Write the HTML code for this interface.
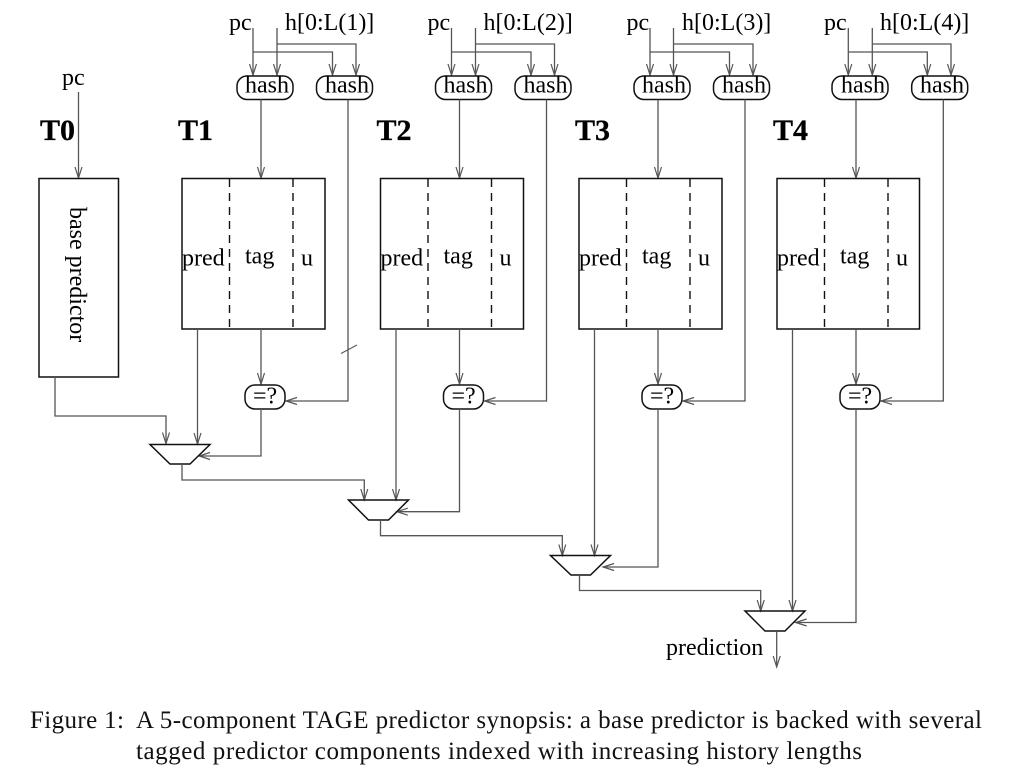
<!DOCTYPE html>
<html>
<head>
<meta charset="utf-8">
<style>
html,body{margin:0;padding:0;background:#fff;width:1014px;height:772px;overflow:hidden}
svg{display:block}
text{font-family:"Liberation Serif",serif;font-size:24px;fill:#000}
.b{font-weight:bold;font-size:30px;fill:#000;stroke:#000;stroke-width:.3}
.c{font-size:25px;fill:#111}
.l{fill:none;stroke:#555;stroke-width:1.3}
.s{fill:none;stroke:#111;stroke-width:1.5}
.d{fill:none;stroke:#111;stroke-width:1.4;stroke-dasharray:8 6}
</style>
</head>
<body>
<svg width="1014" height="772" viewBox="0 0 1014 772" xmlns="http://www.w3.org/2000/svg">
<defs>
<marker id="a" markerUnits="userSpaceOnUse" markerWidth="14" markerHeight="10" refX="12.5" refY="5" orient="auto">
<path d="M1.5 1.5 L12.5 5 L1.5 8.5" fill="none" stroke="#555" stroke-width="1.2"/>
</marker>
</defs>

<!-- T0 -->
<text x="62" y="85">pc</text>
<text class="b" x="40" y="140">T0</text>
<path class="l" d="M78.5 92V178" marker-end="url(#a)"/>
<rect class="s" x="39" y="178.5" width="79.5" height="198.5"/>
<text transform="translate(70,207) rotate(90)">base predictor</text>
<path class="l" d="M55 377V416H166V443.5" marker-end="url(#a)"/>

<!-- T1 -->
<g>
<text x="229" y="30">pc</text>
<text x="285" y="30">h[0:L(1)]</text>
<text class="b" x="178" y="140">T1</text>
<path class="l" d="M253 28V75" marker-end="url(#a)"/>
<path class="l" d="M277 28V75" marker-end="url(#a)"/>
<path class="l" d="M277 44H356V75" marker-end="url(#a)"/>
<path class="l" d="M253 52H332.5V75" marker-end="url(#a)"/>
<rect class="s" x="237" y="76" width="56" height="23.5" rx="10"/>
<rect class="s" x="316.5" y="76" width="56" height="23.5" rx="10"/>
<text x="245" y="92.5">hash</text>
<text x="325" y="92.5">hash</text>
<path class="l" d="M261 99.5V178" marker-end="url(#a)"/>
<path class="l" d="M348 99.5V401H286" marker-end="url(#a)"/>
<rect class="s" x="182" y="178.5" width="143" height="150.5"/>
<path class="d" d="M229.5 179V329"/>
<path class="d" d="M293 179V329"/>
<text x="182" y="265.5">pred</text>
<text x="245" y="263.5">tag</text>
<text x="301" y="265.5">u</text>
<path class="l" d="M261 329V384" marker-end="url(#a)"/>
<rect class="s" x="245" y="385" width="40" height="24" rx="10"/>
<text x="253" y="403.5">=?</text>
<path class="l" d="M197.5 329V444" marker-end="url(#a)"/>
<path class="l" d="M261 409V456H199" marker-end="url(#a)"/>
<path class="s" d="M150 444.5H210L190 464H170Z"/>
<path class="l" d="M182 464V480H364.3V500" marker-end="url(#a)"/>
</g>
<path d="M341 353.5L357 345" fill="none" stroke="#555" stroke-width="1"/>

<!-- T2 -->
<g transform="translate(198.5,0)">
<text x="229" y="30">pc</text>
<text x="285" y="30">h[0:L(2)]</text>
<text class="b" x="178" y="140">T2</text>
<path class="l" d="M253 28V75" marker-end="url(#a)"/>
<path class="l" d="M277 28V75" marker-end="url(#a)"/>
<path class="l" d="M277 44H356V75" marker-end="url(#a)"/>
<path class="l" d="M253 52H332.5V75" marker-end="url(#a)"/>
<rect class="s" x="237" y="76" width="56" height="23.5" rx="10"/>
<rect class="s" x="316.5" y="76" width="56" height="23.5" rx="10"/>
<text x="245" y="92.5">hash</text>
<text x="325" y="92.5">hash</text>
<path class="l" d="M261 99.5V178" marker-end="url(#a)"/>
<path class="l" d="M348 99.5V401H286" marker-end="url(#a)"/>
<rect class="s" x="182" y="178.5" width="143" height="150.5"/>
<path class="d" d="M229.5 179V329"/>
<path class="d" d="M293 179V329"/>
<text x="182" y="265.5">pred</text>
<text x="245" y="263.5">tag</text>
<text x="301" y="265.5">u</text>
<path class="l" d="M261 329V384" marker-end="url(#a)"/>
<rect class="s" x="245" y="385" width="40" height="24" rx="10"/>
<text x="253" y="403.5">=?</text>
<path class="l" d="M197.5 329V500" marker-end="url(#a)"/>
<path class="l" d="M261 409V511.7H198.3" marker-end="url(#a)"/>
<path class="s" d="M150 500H210L190 520H170Z"/>
<path class="l" d="M182 520V535.7H363.8V555.5" marker-end="url(#a)"/>
</g>

<!-- T3 -->
<g transform="translate(397,0)">
<text x="229.5" y="30">pc</text>
<text x="285" y="30">h[0:L(3)]</text>
<text class="b" x="178" y="140">T3</text>
<path class="l" d="M253 28V75" marker-end="url(#a)"/>
<path class="l" d="M276.5 28V75" marker-end="url(#a)"/>
<path class="l" d="M276.5 44H356V75" marker-end="url(#a)"/>
<path class="l" d="M253 52H332.5V75" marker-end="url(#a)"/>
<rect class="s" x="237" y="76" width="56" height="23.5" rx="10"/>
<rect class="s" x="316.5" y="76" width="56" height="23.5" rx="10"/>
<text x="245" y="92.5">hash</text>
<text x="325" y="92.5">hash</text>
<path class="l" d="M261 99.5V178" marker-end="url(#a)"/>
<path class="l" d="M348 99.5V401H286" marker-end="url(#a)"/>
<rect class="s" x="182" y="178.5" width="143" height="150.5"/>
<path class="d" d="M229.5 179V329"/>
<path class="d" d="M293 179V329"/>
<text x="182" y="265.5">pred</text>
<text x="245" y="263.5">tag</text>
<text x="301" y="265.5">u</text>
<path class="l" d="M261 329V384" marker-end="url(#a)"/>
<rect class="s" x="245" y="385" width="40" height="24" rx="10"/>
<text x="253" y="403.5">=?</text>
<path class="l" d="M197.5 329V555.5" marker-end="url(#a)"/>
<path class="l" d="M261 409V567H206" marker-end="url(#a)"/>
<path class="s" d="M153.5 555.5H213.5L193.5 575H174Z"/>
<path class="l" d="M182.5 575V590.5H363.7V611" marker-end="url(#a)"/>
</g>

<!-- T4 -->
<g transform="translate(595,0)">
<text x="229" y="30">pc</text>
<text x="285" y="30">h[0:L(4)]</text>
<text class="b" x="178" y="140">T4</text>
<path class="l" d="M253.3 28V75" marker-end="url(#a)"/>
<path class="l" d="M277.3 28V75" marker-end="url(#a)"/>
<path class="l" d="M277.3 44H356V75" marker-end="url(#a)"/>
<path class="l" d="M253.3 52H332.3V75" marker-end="url(#a)"/>
<rect class="s" x="237" y="76" width="56" height="23.5" rx="10"/>
<rect class="s" x="316.7" y="76" width="56" height="23.5" rx="10"/>
<text x="246" y="92.5">hash</text>
<text x="325" y="92.5">hash</text>
<path class="l" d="M261 99.5V178" marker-end="url(#a)"/>
<path class="l" d="M348.3 99.5V401H286" marker-end="url(#a)"/>
<rect class="s" x="182" y="178.5" width="142.5" height="150.5"/>
<path class="d" d="M229.5 179V329"/>
<path class="d" d="M293 179V329"/>
<text x="182" y="265.5">pred</text>
<text x="245" y="263.5">tag</text>
<text x="301" y="265.5">u</text>
<path class="l" d="M261 329V384" marker-end="url(#a)"/>
<rect class="s" x="245" y="385" width="40" height="24" rx="10"/>
<text x="253" y="403.5">=?</text>
<path class="l" d="M197.5 329V611" marker-end="url(#a)"/>
<path class="l" d="M261 409V622.5H200.7" marker-end="url(#a)"/>
<path class="s" d="M150 611H210L190 631H170Z"/>
<path class="l" d="M181.7 631V667" marker-end="url(#a)"/>
</g>

<text x="666" y="655">prediction</text>

<!-- caption -->
<text class="c" x="30" y="728" textLength="94" lengthAdjust="spacing">Figure 1:</text>
<text class="c" x="136" y="728" textLength="846" lengthAdjust="spacing">A 5-component TAGE predictor synopsis: a base predictor is backed with several</text>
<text class="c" x="136" y="759" textLength="726" lengthAdjust="spacing">tagged predictor components indexed with increasing history lengths</text>
</svg>
</body>
</html>
